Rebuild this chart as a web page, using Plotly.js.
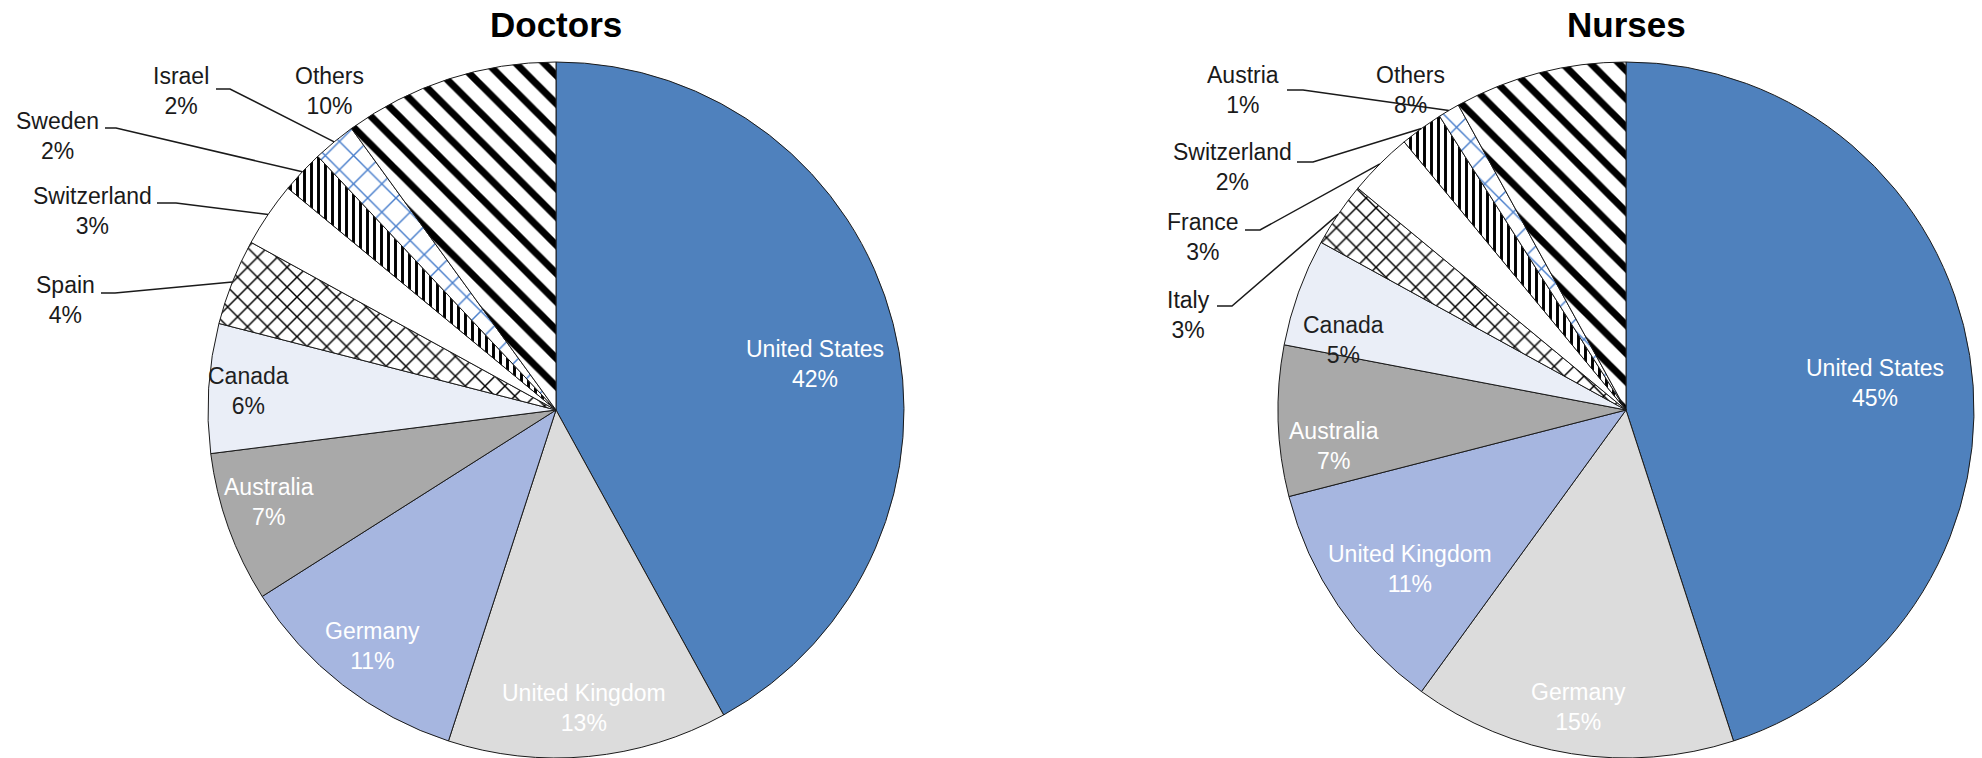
<!DOCTYPE html>
<html>
<head>
<meta charset="utf-8">
<script src="https://cdn.plot.ly/plotly-3.0.1.min.js"></script>
<style>
html,body{margin:0;padding:0;background:#ffffff;}
#chart{width:1982px;height:758px;}
</style>
</head>
<body>
<div id="chart"></div>
<script>
// ---------- DATA ----------
const chartTitles = ['Doctors', 'Nurses'];
const doctorLabels = ['United States', 'United Kingdom', 'Germany', 'Australia', 'Canada', 'Spain', 'Switzerland', 'Sweden', 'Israel', 'Others'];
const doctorValues = [42, 13, 11, 7, 6, 4, 3, 2, 2, 10];
const nurseLabels = ['United States', 'Germany', 'United Kingdom', 'Australia', 'Canada', 'Italy', 'France', 'Switzerland', 'Austria', 'Others'];
const nurseValues = [45, 15, 11, 7, 5, 3, 3, 2, 1, 8];

// ---------- STYLE (by slice position) ----------
const W = 1982, H = 758;
const FONT = 'Liberation Sans, Arial, sans-serif';
const sliceColors = ['#4F81BD', '#DCDCDC', '#A6B6E0', '#A9A9A9', '#EAEEF7', '#FFFFFF', '#FFFFFF', '#FFFFFF', '#FFFFFF', '#FFFFFF'];
const patShape = ['', '', '', '', '', 'x', '', '|', 'x', '\\'];
const patFg = ['#000000', '#000000', '#000000', '#000000', '#000000', '#000000', '#000000', '#000000', '#4A7FCC', '#000000'];
const patSize = [10, 10, 10, 10, 10, 14, 10, 7, 20, 20];
const patSolid = [0.3, 0.3, 0.3, 0.3, 0.3, 0.2, 0.3, 0.42, 0.14, 0.35];
const insideTextColors = ['#FFFFFF', '#FFFFFF', '#FFFFFF', '#FFFFFF', '#1F1F1F'];

// layout geometry per pie (pixels)
const pieLayouts = [
  {
    labels: doctorLabels, values: doctorValues, title: chartTitles[0],
    cx: 556, cy: 410, r: 348, titleY: 25,
    insideRadius: [0.756, 0.86, 0.86, 0.865, 0.885],
    insideAngleShift: [4.3, 0, 0, 2, 0],
    outside: [
      {i: 5, tx: 65,  ty: 300, lx0: 101, lx1: 115, ly: 293},
      {i: 6, tx: 92,  ty: 211, lx0: 157, lx1: 176, ly: 203},
      {i: 7, tx: 57,  ty: 136, lx0: 105, lx1: 116, ly: 128},
      {i: 8, tx: 181, ty: 91,  lx0: 216, lx1: 230, ly: 89},
      {i: 9, tx: 329, ty: 91}
    ]
  },
  {
    labels: nurseLabels, values: nurseValues, title: chartTitles[1],
    cx: 1626, cy: 410, r: 348, titleY: 25,
    insideRadius: [0.72, 0.865, 0.77, 0.845, 0.836],
    insideAngleShift: [2.8, 0, -2.2, -5.2, -5.8],
    outside: [
      {i: 5, tx: 1188, ty: 315, lx0: 1217, lx1: 1232, ly: 306},
      {i: 6, tx: 1203, ty: 237, lx0: 1245, lx1: 1260, ly: 230},
      {i: 7, tx: 1232, ty: 167, lx0: 1297, lx1: 1313, ly: 162},
      {i: 8, tx: 1243, ty: 90,  lx0: 1287, lx1: 1303, ly: 90},
      {i: 9, tx: 1410, ty: 90}
    ]
  }
];

const px = x => x / W;
const py = y => 1 - y / H;

const traces = [];
const annotations = [];
const shapes = [];

pieLayouts.forEach(p => {
  const total = p.values.reduce((a, b) => a + b, 0);
  // mid angles (deg, clockwise from 12 o'clock)
  let cum = 0;
  const mids = p.values.map(v => { const m = (cum + v / 2) / total * 360; cum += v; return m; });
  const pt = (deg, rr) => {
    const a = deg * Math.PI / 180;
    return [p.cx + rr * Math.sin(a), p.cy - rr * Math.cos(a)];
  };

  traces.push({
    type: 'pie',
    labels: p.labels,
    values: p.values,
    sort: false,
    direction: 'clockwise',
    rotation: 0,
    domain: {x: [px(p.cx - p.r), px(p.cx + p.r)], y: [py(p.cy + p.r), py(p.cy - p.r)]},
    marker: {
      colors: sliceColors,
      line: {color: '#1A1A1A', width: 1},
      pattern: {shape: patShape, fgcolor: patFg, bgcolor: sliceColors, size: patSize, solidity: patSolid, fillmode: 'replace'}
    },
    textinfo: 'none',
    hoverinfo: 'skip',
    showlegend: false
  });

  // title
  annotations.push({
    xref: 'paper', yref: 'paper', x: px(p.cx), y: py(p.titleY),
    xanchor: 'center', yanchor: 'middle', showarrow: false,
    text: '<b>' + p.title + '</b>',
    font: {family: FONT, size: 35, color: '#000000'}
  });

  // inside labels
  p.insideRadius.forEach((f, i) => {
    const [x, y] = pt(mids[i] + p.insideAngleShift[i], f * p.r);
    annotations.push({
      xref: 'paper', yref: 'paper', x: px(x), y: py(y),
      xanchor: 'center', yanchor: 'middle', showarrow: false,
      text: p.labels[i] + '<br>' + p.values[i] + '%',
      font: {family: FONT, size: 23, color: insideTextColors[i]}
    });
  });

  // outside labels with leader lines
  p.outside.forEach(o => {
    annotations.push({
      xref: 'paper', yref: 'paper', x: px(o.tx), y: py(o.ty),
      xanchor: 'center', yanchor: 'middle', showarrow: false,
      text: p.labels[o.i] + '<br>' + p.values[o.i] + '%',
      font: {family: FONT, size: 23, color: '#1A1A1A'}
    });
    if (o.lx0 !== undefined) {
      const [ax, ay] = pt(mids[o.i], p.r);
      shapes.push({
        type: 'path', xref: 'paper', yref: 'paper',
        path: `M ${px(o.lx0)} ${py(o.ly)} L ${px(o.lx1)} ${py(o.ly)} L ${px(ax)} ${py(ay)}`,
        line: {color: '#1A1A1A', width: 1.5}
      });
    }
  });
});

const layout = {
  width: W, height: H,
  margin: {l: 0, r: 0, t: 0, b: 0},
  paper_bgcolor: '#FFFFFF', plot_bgcolor: '#FFFFFF',
  showlegend: false,
  font: {family: FONT},
  annotations: annotations,
  shapes: shapes
};

Plotly.newPlot('chart', traces, layout, {staticPlot: true, displayModeBar: false});
</script>
</body>
</html>
